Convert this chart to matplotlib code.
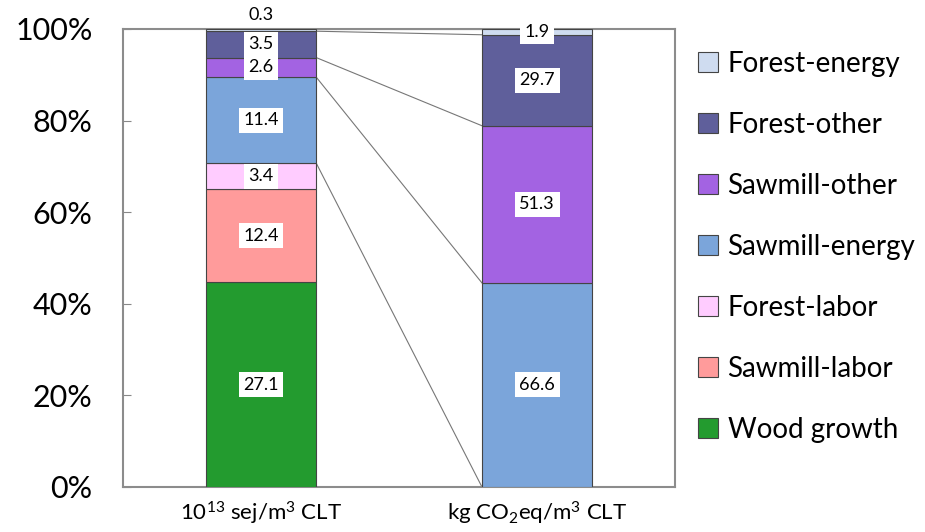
import numpy as np
import matplotlib.pyplot as plt
from matplotlib.ticker import PercentFormatter

plt.rcParams['font.family'] = ['Lato', 'DejaVu Sans']
plt.rcParams['mathtext.fontset'] = 'custom'
plt.rcParams['mathtext.rm'] = 'Lato'
plt.rcParams['mathtext.it'] = 'Lato'

# categories (x axis) and stacked series, bottom to top
categories = ['10$^{13}$ sej/m$^3$ CLT', 'kg CO$_2$eq/m$^3$ CLT']
series = ['Wood growth', 'Sawmill-labor', 'Forest-labor', 'Sawmill-energy',
          'Sawmill-other', 'Forest-other', 'Forest-energy']
emergy = [27.1, 12.4, 3.4, 11.4, 2.6, 3.5, 0.3]
carbon = [0, 0, 0, 66.6, 51.3, 29.7, 1.9]
colors = ['#239b2f', '#ff9b9b', '#ffccff', '#7ba5da', '#a363e2', '#5f5f9b', '#cfdcf0']

vals = np.array([emergy, carbon]).T          # shape (series, categories)
pct = vals / vals.sum(axis=0)                # 100% stacked
tops = np.cumsum(pct, axis=0)
bottoms = tops - pct

fig = plt.figure(figsize=(9.25, 5.32), dpi=100)
ax = fig.add_axes([0.133, 0.0846, 0.597, 0.861])

x = np.arange(len(categories))
bw = 0.4
for i, name in enumerate(series):
    ax.bar(x, pct[i], bottom=bottoms[i], width=bw, color=colors[i],
           edgecolor='#444444', linewidth=0.8, label=name, zorder=3)

# series lines between the bars
for i in range(2, len(series)):
    ax.plot([x[0] + bw / 2, x[1] - bw / 2], [tops[i, 0], tops[i, 1]],
            color='#777777', lw=0.8, zorder=2)

# value labels
for i in range(len(series)):
    for j in range(len(categories)):
        v = vals[i, j]
        if v == 0:
            continue
        dy = 0
        if i == len(series) - 1 and j == 0:
            dy = 11  # pushed up to avoid overlap with 3.5
        ax.annotate(f'{v:.1f}', (x[j], bottoms[i, j] + pct[i, j] / 2),
                    xytext=(0, dy), textcoords='offset points',
                    ha='center', va='center', fontsize=13, zorder=5,
                    annotation_clip=False,
                    bbox=dict(boxstyle='square,pad=0.25', fc='white', ec='none'))

ax.set_xlim(-0.5, 1.5)
ax.set_ylim(0, 1)
ax.set_yticks(np.arange(0, 1.01, 0.2))
ax.yaxis.set_major_formatter(PercentFormatter(1.0, decimals=0))
ax.set_xticks(x)
ax.set_xticklabels(categories, fontsize=16)
ax.tick_params(axis='y', direction='in', length=6, color='#888888',
               labelsize=22, pad=22)
ax.tick_params(axis='x', length=0, pad=9)
for s in ax.spines.values():
    s.set_color('#8c8c8c')
    s.set_linewidth(1.5)

h, l = ax.get_legend_handles_labels()
fig.legend(h[::-1], l[::-1], loc='upper left', bbox_to_anchor=(0.755, 0.905),
           frameon=False, fontsize=20, handlelength=0.7, handleheight=0.7,
           handletextpad=0.35, labelspacing=1.26, borderaxespad=0, borderpad=0)

fig.savefig('out.png', dpi=100)
